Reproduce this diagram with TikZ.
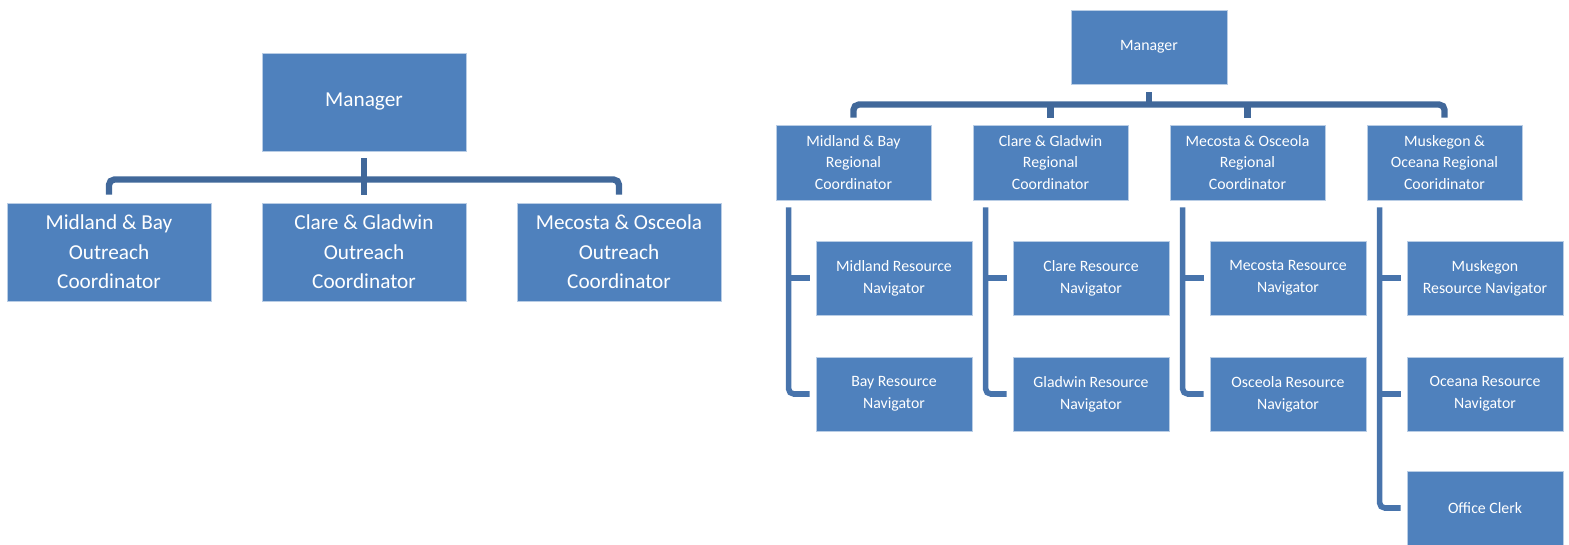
\documentclass[tikz,border=0pt]{standalone}
\usepackage{fontspec}
\setmainfont{Carlito}
\usepackage{tikz}
\usetikzlibrary{shapes.geometric, arrows, positioning}
\definecolor{boxblue}{HTML}{4F81BD}
\definecolor{edgeblue}{HTML}{B9CDE5}
\definecolor{busblue}{HTML}{41689A}
\definecolor{spineblue}{HTML}{4874AC}
\tikzstyle{bigbox} = [rectangle, minimum width=4.08cm, minimum height=1.96cm, align=center, draw=edgeblue, line width=0.5pt, fill=boxblue, text=white, font=\fontsize{12.1}{16.7}\selectfont]
\tikzstyle{smallbox} = [rectangle, minimum width=3.12cm, minimum height=1.48cm, align=center, draw=edgeblue, line width=0.5pt, fill=boxblue, text=white, font=\fontsize{9}{12.4}\selectfont]
\tikzstyle{regbox} = [smallbox, minimum width=3.1cm, minimum height=1.5cm]
\tikzstyle{bus} = [draw=busblue, line width=3.6pt, rounded corners=3pt]
\tikzstyle{spine} = [draw=spineblue, line width=3.2pt, rounded corners=3pt]

\begin{document}
\begin{tikzpicture}[node distance=3cm]
\useasboundingbox (0,0) rectangle (31.38,-10.88);

% Outreach chart
\node (mgrL) [bigbox] at (7.28,-2.04) {Manager};
\node (cgL) [bigbox, below of=mgrL] {Clare \& Gladwin\\Outreach\\Coordinator};
\node (mbL) [bigbox, below of=mgrL, xshift=-5.1cm] {Midland \& Bay\\Outreach\\Coordinator};
\node (moL) [bigbox, below of=mgrL, xshift=5.1cm] {Mecosta \& Osceola\\Outreach\\Coordinator};

\draw [bus] ([yshift=0.16cm]mbL.north) -- ++(0,0.3) -| ([yshift=0.16cm]moL.north);
\draw [bus] ([yshift=-0.14cm]mgrL.south) -- ([yshift=0.16cm]cgL.north);

% Regional chart
\node (mgrR) [smallbox] at (22.98,-0.94) {Manager};
\node (rcMB) [regbox, below of=mgrR, node distance=2.31cm, xshift=-5.91cm] {Midland \& Bay\\Regional\\Coordinator};
\node (rcCG) [regbox, right of=rcMB, node distance=3.94cm] {Clare \& Gladwin\\Regional\\Coordinator};
\node (rcMO) [regbox, right of=rcCG, node distance=3.94cm] {Mecosta \& Osceola\\Regional\\Coordinator};
\node (rcMK) [regbox, right of=rcMO, node distance=3.94cm] {Muskegon \&\\Oceana Regional\\Cooridinator};

\node (navMid) [smallbox, below of=rcMB, node distance=2.31cm, xshift=0.81cm] {Midland Resource\\Navigator};
\node (navBay) [smallbox, below of=navMid, node distance=2.32cm] {Bay Resource\\Navigator};
\node (navCla) [smallbox, below of=rcCG, node distance=2.31cm, xshift=0.81cm] {Clare Resource\\Navigator};
\node (navGla) [smallbox, below of=navCla, node distance=2.32cm] {Gladwin Resource\\Navigator};
\node (navMec) [smallbox, below of=rcMO, node distance=2.31cm, xshift=0.81cm] {Mecosta Resource\\Navigator};
\node (navOsc) [smallbox, below of=navMec, node distance=2.32cm] {Osceola Resource\\Navigator};
\node (navMus) [smallbox, below of=rcMK, node distance=2.31cm, xshift=0.81cm] {Muskegon\\Resource Navigator};
\node (navOce) [smallbox, below of=navMus, node distance=2.32cm] {Oceana Resource\\Navigator};
\node (clerk) [smallbox, below of=navOce, node distance=2.28cm] {Office Clerk};

% Top bus
\draw [bus] ([yshift=0.14cm]rcMB.north) -- ++(0,0.26) -| ([yshift=0.14cm]rcMK.north);
\draw [bus] ([yshift=-0.16cm]mgrR.south) -- ++(0,-0.3);
\draw [bus] ([yshift=0.14cm]rcCG.north) -- ++(0,0.3);
\draw [bus] ([yshift=0.14cm]rcMO.north) -- ++(0,0.3);

% Spines
\coordinate (spMB) at ([xshift=0.26cm, yshift=-0.14cm]rcMB.south west);
\coordinate (spCG) at ([xshift=0.26cm, yshift=-0.14cm]rcCG.south west);
\coordinate (spMO) at ([xshift=0.26cm, yshift=-0.14cm]rcMO.south west);
\coordinate (spMK) at ([xshift=0.26cm, yshift=-0.14cm]rcMK.south west);

\draw [spine] (spMB) |- ([xshift=-0.12cm]navBay.west);
\draw [spine] (spMB |- navMid.west) -- ([xshift=-0.12cm]navMid.west);
\draw [spine] (spCG) |- ([xshift=-0.12cm]navGla.west);
\draw [spine] (spCG |- navCla.west) -- ([xshift=-0.12cm]navCla.west);
\draw [spine] (spMO) |- ([xshift=-0.12cm]navOsc.west);
\draw [spine] (spMO |- navMec.west) -- ([xshift=-0.12cm]navMec.west);
\draw [spine] (spMK) |- ([xshift=-0.12cm]clerk.west);
\draw [spine] (spMK |- navMus.west) -- ([xshift=-0.12cm]navMus.west);
\draw [spine] (spMK |- navOce.west) -- ([xshift=-0.12cm]navOce.west);

\end{tikzpicture}
\end{document}
